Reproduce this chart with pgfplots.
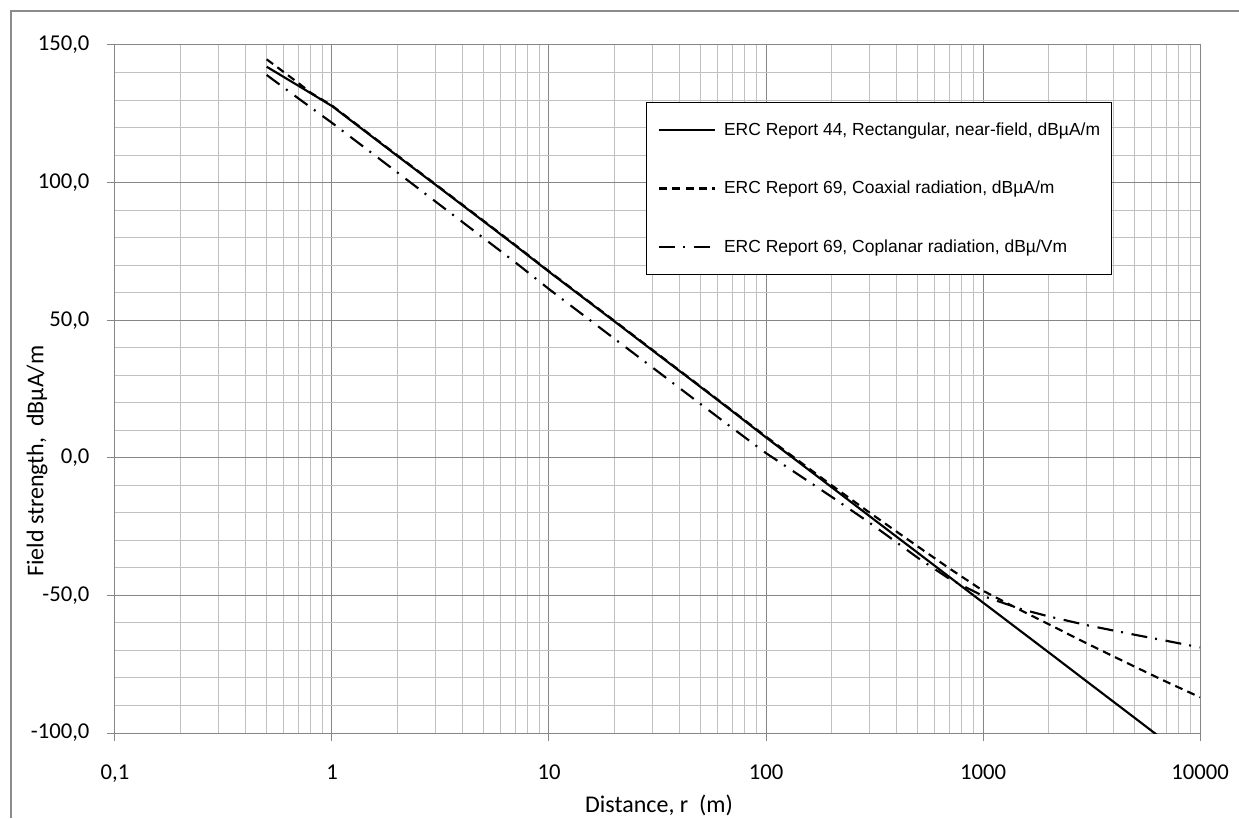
\documentclass[border=0pt]{standalone}
\usepackage{fontspec}
\setmainfont{Carlito}
\newfontfamily\legfont{Liberation Sans}
\usepackage{pgfplots}
\pgfplotsset{compat=1.18}
\definecolor{gridmaj}{HTML}{868686}
\definecolor{gridmin}{HTML}{C0C0C0}
\definecolor{framec}{HTML}{8C8C8C}

% field strength vs distance, three models
\pgfplotstableread{
r      val
0.5    142.1
0.7    135.2
1      127.8
2      109.7
3      99.2
5      85.9
7      77.1
10     67.6
20     49.6
30     39.0
50     25.7
70     16.9
100    7.4
200    -10.6
300    -21.2
500    -34.5
700    -43.3
1000   -52.6
2000   -70.6
3000   -81.2
5000   -94.5
7000   -103.3
10000  -112.6
}\rectnear
\pgfplotstableread{
r      val
0.5    144.8
0.7    136.2
0.8    132.6
1      128.0
2      109.9
3      99.4
5      86.1
7      77.3
10     67.8
20     49.8
30     39.2
50     25.9
70     17.1
100    7.7
200    -9.9
300    -19.9
500    -32.2
700    -40.2
1000   -48.3
1500   -55.5
2000   -60.4
3000   -67.4
5000   -75.9
7000   -81.4
10000  -87.0
}\coaxial
\pgfplotstableread{
r      val
0.5    139.1
0.7    130.6
1      121.7
2      103.7
3      93.1
5      79.8
7      71.0
10     61.3
20     43.3
30     32.8
50     19.5
70     10.8
100    1.7
200    -14.1
300    -23.6
500    -36.3
700    -44.0
1000   -50.2
1500   -55.0
2000   -57.6
3000   -60.8
5000   -64.3
7000   -66.5
10000  -68.9
}\coplanar

\begin{document}
\begin{tikzpicture}
\useasboundingbox (-86.25pt,-63.75pt) rectangle (843pt,549.75pt);
\draw[framec, line width=1.1pt] (-78pt,-63.75pt) -- (-78pt,541.5pt) -- (843pt,541.5pt);
\begin{axis}[
  scale only axis, width=813.75pt, height=516pt,
  xmode=log, xmin=0.1, xmax=10000, ymin=-100, ymax=150,
  xtick={0.1,1,10,100,1000,10000},
  xticklabels={{0,1},1,10,100,1000,10000},
  minor xtick={0.2,0.3,0.4,0.5,0.6,0.7,0.8,0.9,2,3,4,5,6,7,8,9,20,30,40,50,60,70,80,90,
    200,300,400,500,600,700,800,900,2000,3000,4000,5000,6000,7000,8000,9000},
  ytick={-100,-50,...,150}, minor y tick num=4,
  grid=both,
  major grid style={draw=gridmaj, line width=0.75pt},
  minor grid style={draw=gridmin, line width=0.75pt},
  axis line style={draw=gridmaj, line width=0.75pt},
  xtick pos=bottom, ytick pos=left, tick align=outside,
  major tick length=6pt, minor tick length=0pt,
  tick style={draw=gridmaj, line width=0.75pt},
  ticklabel style={font=\fontsize{17}{17}\selectfont},
  yticklabel style={/pgf/number format/fixed, /pgf/number format/fixed zerofill,
    /pgf/number format/precision=1, /pgf/number format/use comma,
    /pgf/number format/assume math mode=true, inner sep=0pt, xshift=-13pt},
  xticklabel style={inner sep=0pt, yshift=-18pt},
  xlabel={Distance, r~ (m)},
  ylabel={Field strength,~ dBµA/m},
  label style={font=\fontsize{18}{18}\selectfont},
  xlabel style={at={(axis description cs:0.5014,-0.1055)}, anchor=center},
  ylabel style={at={(axis description cs:-0.0719,0.395)}, anchor=center},
  legend style={at={(rel axis cs:0.4894,0.9172)}, anchor=north west,
    draw=black, line width=0.9pt, fill=white,
    inner xsep=8.5pt, inner ysep=15pt, row sep=33pt,
    nodes={inner sep=0pt},
    font=\legfont\fontsize{13.1}{13.1}\selectfont,
    /tikz/every odd column/.append style={column sep=6pt}},
  legend cell align=left,
  legend image code/.code={\draw[#1] (0pt,0pt) -- (42pt,0pt);},
]
\addplot[black, line width=1.6pt] table[x=r, y=val] {\rectnear};
\addlegendentry{ERC Report 44, Rectangular, near-field, dBµA/m}
\addplot[black, line width=1.6pt, dash pattern=on 6pt off 4pt] table[x=r, y=val] {\coaxial};
\addlegendentry{ERC Report 69, Coaxial radiation, dBµA/m}
\addplot[black, line width=1.6pt, dash pattern=on 12pt off 6pt on 1.5pt off 6.5pt] table[x=r, y=val] {\coplanar};
\addlegendentry{ERC Report 69, Coplanar radiation, dBµ/Vm}
\end{axis}
\end{tikzpicture}
\end{document}
